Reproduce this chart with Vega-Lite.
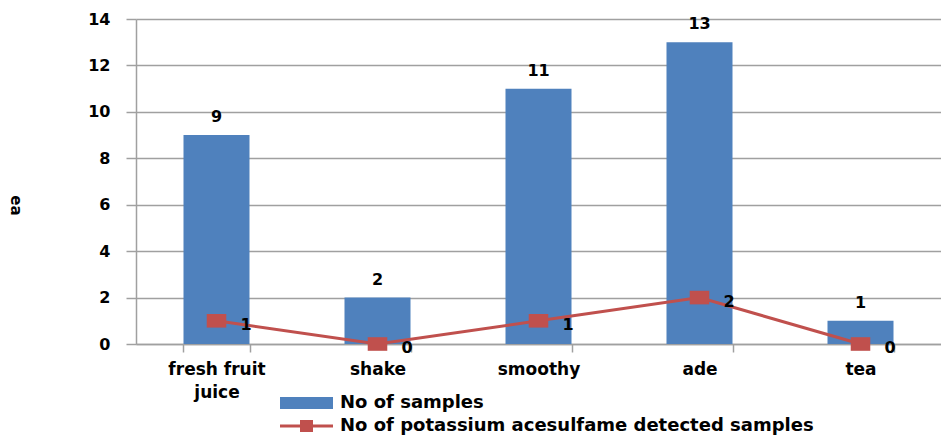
{
  "$schema": "https://vega.github.io/schema/vega-lite/v6.json",
  "autosize": "none",
  "width": 805,
  "height": 325,
  "padding": {"left": 136, "top": 19, "right": 0, "bottom": 92},
  "background": "white",
  "config": {
    "view": {"stroke": null},
    "font": "DejaVu Sans",
    "axis": {
      "labelFont": "DejaVu Sans",
      "labelFontWeight": "bold",
      "labelColor": "#000000",
      "domainColor": "#A0A0A0",
      "tickColor": "#A0A0A0",
      "gridColor": "#A0A0A0",
      "domainWidth": 1.5,
      "tickWidth": 1.5,
      "gridWidth": 1.5
    },
    "legend": {
      "labelFont": "DejaVu Sans",
      "labelFontWeight": "bold",
      "labelColor": "#000000"
    }
  },
  "data": {
    "values": [
      {"category": "fresh fruit juice", "samples": 9, "detected": 1},
      {"category": "shake", "samples": 2, "detected": 0},
      {"category": "smoothy", "samples": 11, "detected": 1},
      {"category": "ade", "samples": 13, "detected": 2},
      {"category": "tea", "samples": 1, "detected": 0}
    ]
  },
  "encoding": {
    "x": {
      "field": "category",
      "type": "nominal",
      "sort": null,
      "scale": {"paddingInner": 0.59, "paddingOuter": 0.295},
      "axis": {
        "title": null,
        "labelAngle": 0,
        "labelFontSize": 17,
        "labelPadding": 9,
        "labelLineHeight": 23,
        "tickSize": 8,
        "tickBand": "extent",
        "grid": false,
        "labelExpr": "datum.label == 'fresh fruit juice' ? ['fresh fruit', 'juice'] : datum.label"
      }
    }
  },
  "layer": [
    {
      "mark": {"type": "bar"},
      "encoding": {
        "y": {
          "field": "samples",
          "type": "quantitative",
          "scale": {"domain": [0, 14]},
          "axis": {
            "title": "ea",
            "titleAngle": 90,
            "titleX": -121,
            "titleY": 186,
            "titleAlign": "center",
            "titleBaseline": "middle",
            "titleFontSize": 15,
            "titleFontWeight": "bold",
            "titleFont": "DejaVu Sans",
            "values": [0, 2, 4, 6, 8, 10, 12, 14],
            "labelFontSize": 16,
            "labelPadding": 16,
            "tickSize": 10,
            "grid": true
          }
        },
        "color": {
          "datum": "No of samples",
          "type": "nominal",
          "scale": {
            "domain": ["No of samples", "No of potassium acesulfame detected samples"],
            "range": ["#4F81BD", "#C0504D"]
          },
          "legend": {
            "title": null,
            "orient": "none",
            "legendX": 144,
            "legendY": 374,
            "direction": "vertical",
            "padding": 0,
            "symbolSize": 400,
            "labelFontSize": 18,
            "labelLimit": 0,
            "labelOffset": 40,
            "rowPadding": 4,
            "symbolStrokeWidth": 0,
            "symbolOpacity": 1,
            "encode": {
              "symbols": {
                "update": {
                  "shape": {"signal": "datum.label == 'No of samples' ? 'M-1,-0.6H4.3V0.6H-1Z' : 'M-1,-0.15H4.3V0.15H-1Z M1,-0.6H2.3V0.6H1Z'"},
                  "fill": {"signal": "datum.label == 'No of samples' ? '#4F81BD' : '#C0504D'"},
                  "strokeWidth": {"value": 0},
                  "opacity": {"value": 1}
                }
              }
            }
          }
        }
      }
    },
    {
      "mark": {"type": "text", "baseline": "bottom", "dy": -10, "fontSize": 16, "fontWeight": "bold", "font": "DejaVu Sans", "color": "#000000"},
      "encoding": {
        "y": {"field": "samples", "type": "quantitative", "title": "ea"},
        "text": {"field": "samples", "type": "quantitative"}
      }
    },
    {
      "mark": {"type": "line", "strokeWidth": 3},
      "encoding": {
        "y": {"field": "detected", "type": "quantitative", "title": "ea"},
        "color": {"datum": "No of potassium acesulfame detected samples", "type": "nominal"}
      }
    },
    {
      "mark": {"type": "point", "filled": true, "opacity": 1, "size": 289, "shape": "M-1.15,-0.8H1.15V0.8H-1.15Z"},
      "encoding": {
        "y": {"field": "detected", "type": "quantitative", "title": "ea"},
        "color": {"datum": "No of potassium acesulfame detected samples", "type": "nominal"}
      }
    },
    {
      "mark": {"type": "text", "align": "left", "baseline": "middle", "dx": 24, "dy": 4, "fontSize": 16, "fontWeight": "bold", "font": "DejaVu Sans", "color": "#000000"},
      "encoding": {
        "y": {"field": "detected", "type": "quantitative", "title": "ea"},
        "text": {"field": "detected", "type": "quantitative"}
      }
    }
  ]
}
